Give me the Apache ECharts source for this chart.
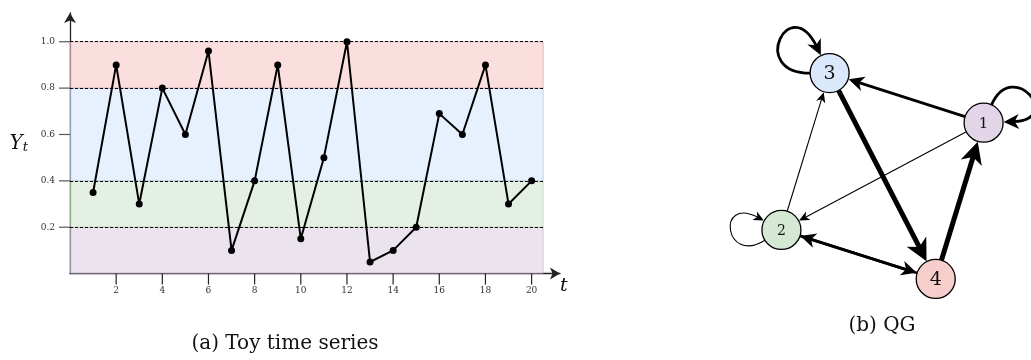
<!DOCTYPE html>
<html><head><meta charset="utf-8">
<script src="https://cdn.jsdelivr.net/npm/echarts@6/dist/echarts.min.js"></script>
<style>html,body{margin:0;padding:0;background:#fff}#c{width:1031px;height:360px}</style>
</head><body><div id="c"></div>
<script>
// ---------- data ----------
const tValues = [1,2,3,4,5,6,7,8,9,10,11,12,13,14,15,16,17,18,19,20];
const yValues = [0.35,0.90,0.30,0.80,0.60,0.96,0.10,0.40,0.90,0.15,0.50,1.00,0.05,0.10,0.20,0.69,0.60,0.90,0.30,0.40];
const xTickLabels = [2,4,6,8,10,12,14,16,18,20];
const yTickLabels = [0.2,0.4,0.6,0.8,1.0];
const bandLower = [0, 0.2, 0.4, 0.8];
const bandUpper = [0.2, 0.4, 0.8, 1.0];
const thresholdValues = [0.2, 0.4, 0.8, 1.0];
const bandEndT = 20.5;

const nodeIds = ['1','2','3','4'];
const nodeX = [8.7, 1.48, 3.2, 6.99];
const nodeY = [6.69, 2.86, 8.46, 1.11];
const edgeFrom  = ['1','1','1','2','2','2','3','3','4','4'];
const edgeTo    = ['1','2','3','2','3','4','3','4','1','2'];
const edgeCount = [2,1,2,1,1,2,2,3,3,2];

const captionA = '(a) Toy time series';
const captionB = '(b) QG';

// ---------- layout / styles ----------
const FONT = 'DejaVu Serif';
const X_MAX = 21.23, Y_MAX = 1.124;
const G = {left:70, right:1031-560, top:13, bottom:360-273.6};
const TICK_LEN = 11;
const AXIS_COLOR = '#222';

const bandFill = ['rgba(225,213,231,0.65)','rgba(213,232,212,0.65)','rgba(218,232,252,0.65)','rgba(248,206,204,0.65)'];
const bandStroke = ['rgba(150,115,166,0.35)','rgba(130,179,102,0.35)','rgba(108,142,191,0.35)','rgba(184,84,80,0.35)'];
const nodeFill = {'1':'#e1d5e7','2':'#d5e8d4','3':'#dae8fc','4':'#f8cecc'};
const nodeFontSize = {'1':15,'2':14,'3':19,'4':19};
const loopStyle = {'1':{out:66,inn:2,len:52}, '2':{out:212,inn:152,len:48}, '3':{out:180,inn:116,len:62}};
const widthByCount = {1:1.1, 2:2.8, 3:5};
const R = 19.5;

const idx = id => nodeIds.indexOf(id);
const edgeData = edgeFrom.map((f,i) => {
  const a = idx(f), b = idx(edgeTo[i]);
  return [nodeX[a], nodeY[a], nodeX[b], nodeY[b], edgeCount[i]];
});
const nodeData = nodeIds.map((id,i) => [nodeX[i], nodeY[i]]);

function arrowHead(tip, dir, L, H) {
  const perp = [-dir[1], dir[0]];
  return {
    type: 'polygon',
    shape: { points: [
      tip,
      [tip[0]-L*dir[0]+H*perp[0], tip[1]-L*dir[1]+H*perp[1]],
      [tip[0]-0.72*L*dir[0], tip[1]-0.72*L*dir[1]],
      [tip[0]-L*dir[0]-H*perp[0], tip[1]-L*dir[1]-H*perp[1]]
    ]},
    style: { fill: '#000', stroke: null }
  };
}

function renderEdge(params, api) {
  const from = edgeFrom[params.dataIndex], to = edgeTo[params.dataIndex];
  const p1 = api.coord([api.value(0), api.value(1)]);
  const p2 = api.coord([api.value(2), api.value(3)]);
  const w = widthByCount[api.value(4)];
  const L = 7 + 3*w, H = 3 + 1.6*w;
  const children = [];
  if (from === to) {
    const s = loopStyle[from];
    const r0 = s.out*Math.PI/180, r3 = s.inn*Math.PI/180;
    const d0 = [Math.cos(r0), -Math.sin(r0)];
    const d3 = [Math.cos(r3), -Math.sin(r3)];
    const P0 = [p1[0]+R*d0[0], p1[1]+R*d0[1]];
    const tip = [p1[0]+(R+0.5)*d3[0], p1[1]+(R+0.5)*d3[1]];
    const E = [tip[0]+0.6*L*d3[0], tip[1]+0.6*L*d3[1]];
    children.push({type:'bezierCurve', shape:{x1:P0[0],y1:P0[1],x2:E[0],y2:E[1],
      cpx1:P0[0]+s.len*d0[0], cpy1:P0[1]+s.len*d0[1], cpx2:E[0]+s.len*d3[0], cpy2:E[1]+s.len*d3[1]},
      style:{stroke:'#000', lineWidth:w, fill:null}});
    children.push(arrowHead(tip, [-d3[0], -d3[1]], L, H));
  } else {
    const dx = p2[0]-p1[0], dy = p2[1]-p1[1], len = Math.hypot(dx,dy);
    const dir = [dx/len, dy/len];
    const S = [p1[0]+R*dir[0], p1[1]+R*dir[1]];
    const tip = [p2[0]-(R+0.5)*dir[0], p2[1]-(R+0.5)*dir[1]];
    const E = [tip[0]-0.6*L*dir[0], tip[1]-0.6*L*dir[1]];
    children.push({type:'line', shape:{x1:S[0],y1:S[1],x2:E[0],y2:E[1]}, style:{stroke:'#000', lineWidth:w}});
    children.push(arrowHead(tip, dir, L, H));
  }
  return {type:'group', children};
}

function renderNode(params, api) {
  const c = api.coord([api.value(0), api.value(1)]);
  const id = nodeIds[params.dataIndex];
  return {type:'group', children:[
    {type:'circle', shape:{cx:c[0], cy:c[1], r:R}, style:{fill:nodeFill[id], stroke:'#000', lineWidth:1.3}},
    {type:'text', x:c[0], y:c[1]+1, style:{text:id, align:'center', verticalAlign:'middle', fontSize:nodeFontSize[id], fontFamily:FONT, fill:'#111'}}
  ]};
}

// tick marks drawn through the axis scale (outside the plot)
function renderXTick(params, api) {
  const p = api.coord([api.value(0), 0]);
  return {type:'line', shape:{x1:p[0], y1:p[1], x2:p[0], y2:p[1]+TICK_LEN}, style:{stroke:AXIS_COLOR, lineWidth:1.2}};
}
function renderYTick(params, api) {
  const p = api.coord([0, api.value(1)]);
  return {type:'line', shape:{x1:p[0], y1:p[1], x2:p[0]-TICK_LEN, y2:p[1]}, style:{stroke:'#555', lineWidth:1.2}};
}

const chart = echarts.init(document.getElementById('c'), null, {renderer:'canvas'});
chart.setOption({
  animation: false,
  backgroundColor: '#fff',
  grid: [
    {left:G.left, right:G.right, top:G.top, bottom:G.bottom},
    {left:740, top:30, width:280, height:280}
  ],
  xAxis: [
    {type:'value', gridIndex:0, min:0, max:X_MAX,
     axisLine:{show:true, symbol:['none','arrow'], symbolSize:[9,10], lineStyle:{color:AXIS_COLOR, width:1.3}},
     axisTick:{show:false},
     axisLabel:{customValues:xTickLabels, margin:13, fontFamily:FONT, fontSize:9, color:'#333'},
     splitLine:{show:false},
     name:'t', nameLocation:'end', nameGap:0,
     nameTextStyle:{fontFamily:FONT, fontStyle:'italic', fontSize:19, color:'#111', verticalAlign:'top', align:'left', padding:[3,0,0,0]}},
    {type:'value', gridIndex:1, min:0, max:10, show:false}
  ],
  yAxis: [
    {type:'value', gridIndex:0, min:0, max:Y_MAX,
     axisLine:{show:true, symbol:['none','arrow'], symbolSize:[9,10], lineStyle:{color:AXIS_COLOR, width:1.3}},
     axisTick:{show:false},
     axisLabel:{customValues:yTickLabels, margin:15, fontFamily:FONT, fontSize:9, color:'#333',
       formatter: v => v.toFixed(1)},
     splitLine:{show:false},
     name:'{y|Y}{s|t}', nameLocation:'middle', nameRotate:0, nameGap:42,
     nameTextStyle:{align:'right', verticalAlign:'middle', rich:{
       y:{fontFamily:FONT, fontStyle:'italic', fontSize:20, color:'#111'},
       s:{fontFamily:FONT, fontStyle:'italic', fontSize:13, color:'#111', padding:[8,0,0,0]}}}},
    {type:'value', gridIndex:1, min:0, max:10, show:false}
  ],
  graphic: [
    {type:'text', x:285, y:344, style:{text:captionA, align:'center', verticalAlign:'middle', fontFamily:FONT, fontSize:20, fill:'#111'}},
    {type:'text', x:882, y:326, style:{text:captionB, align:'center', verticalAlign:'middle', fontFamily:FONT, fontSize:20, fill:'#111'}}
  ],
  series: [
    {type:'line', xAxisIndex:0, yAxisIndex:0, data: tValues.map((t,i)=>[t, yValues[i]]),
     lineStyle:{color:'#000', width:2}, itemStyle:{color:'#000'}, symbol:'circle', symbolSize:7, showSymbol:true, z:5,
     markArea:{silent:true, data: bandLower.map((lo,i)=>[
       {xAxis:0, yAxis:lo, itemStyle:{color:bandFill[i], borderColor:bandStroke[i], borderWidth:1}},
       {xAxis:bandEndT, yAxis:bandUpper[i]}])},
     markLine:{silent:true, symbol:['none','none'], label:{show:false},
       lineStyle:{color:'#000', width:1, type:[3,2], opacity:1},
       data: thresholdValues.map(v=>[{coord:[0,v]},{coord:[bandEndT,v]}])}
    },
    {type:'custom', coordinateSystem:'cartesian2d', xAxisIndex:0, yAxisIndex:0, data:xTickLabels.map(v=>[v,0]),
     encode:{x:0, y:1}, renderItem:renderXTick, silent:true, clip:false, z:6},
    {type:'custom', coordinateSystem:'cartesian2d', xAxisIndex:0, yAxisIndex:0, data:yTickLabels.map(v=>[0,v]),
     encode:{x:0, y:1}, renderItem:renderYTick, silent:true, clip:false, z:6},
    {type:'custom', coordinateSystem:'cartesian2d', xAxisIndex:1, yAxisIndex:1, data:edgeData,
     encode:{x:[0,2], y:[1,3]}, renderItem:renderEdge, silent:true, z:3},
    {type:'custom', coordinateSystem:'cartesian2d', xAxisIndex:1, yAxisIndex:1, data:nodeData,
     encode:{x:0, y:1}, renderItem:renderNode, silent:true, z:4}
  ]
});
</script></body></html>
